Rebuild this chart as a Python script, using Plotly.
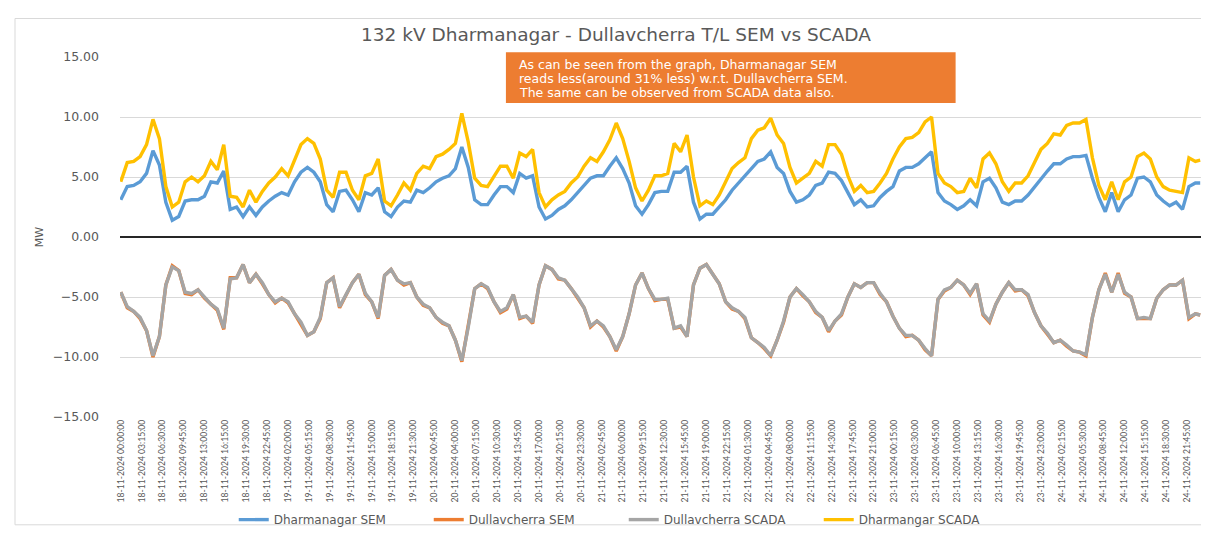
import pandas as pd
import plotly.graph_objects as go

# hourly readings, 18-11-2024 00:00 ... 24-11-2024 23:00, plus final 23:45 slot
times = list(pd.date_range("2024-11-18 00:00", periods=168, freq="h")) + [pd.Timestamp("2024-11-24 23:45")]

dharmanagar_sem = [
    3.1,4.2,4.3,4.6,5.3,7.2,6.0,2.9,1.4,1.7,3.0,3.1,3.1,3.4,4.6,4.5,5.5,2.3,2.5,1.7,2.5,1.8,2.5,3.0,3.4,3.7,3.5,4.6,
    5.4,5.8,5.4,4.6,2.7,2.1,3.8,3.9,3.1,2.1,3.7,3.5,4.1,2.1,1.7,2.5,3.0,2.9,3.9,3.7,4.1,4.6,4.9,5.1,5.7,7.5,5.8,3.1,
    2.7,2.7,3.5,4.2,4.2,3.7,5.3,4.9,5.1,2.5,1.5,1.8,2.3,2.6,3.1,3.7,4.2,4.9,5.1,5.1,5.9,6.6,5.7,4.5,2.6,1.9,2.7,3.7,
    3.8,3.8,5.4,5.4,5.9,2.9,1.5,1.9,1.9,2.5,3.1,3.9,4.5,5.0,5.7,6.3,6.5,7.1,5.8,5.3,3.8,2.9,3.1,3.5,4.3,4.5,5.4,5.3,
    4.7,3.7,2.7,3.1,2.5,2.6,3.3,3.8,4.2,5.5,5.8,5.8,6.1,6.6,7.1,3.7,3.0,2.7,2.3,2.6,3.1,2.6,4.6,4.9,4.1,2.9,2.7,3.0,
    3.0,3.5,4.2,4.9,5.5,6.1,6.1,6.5,6.7,6.7,6.8,4.9,3.3,2.1,3.7,2.1,3.1,3.5,4.9,5.0,4.6,3.5,3.0,2.6,2.9,2.3,4.2,4.5,4.5,
]

dullavcherra_sem = [
    -4.6,-5.9,-6.2,-6.8,-7.8,-10.0,-8.3,-4.0,-2.4,-2.8,-4.7,-4.8,-4.4,-5.1,-5.6,-6.1,-7.7,-3.4,-3.4,-2.3,-3.8,-3.1,-3.9,-4.8,-5.5,-5.1,-5.5,-6.4,
    -7.2,-8.2,-7.9,-6.8,-3.8,-3.4,-5.9,-4.8,-3.8,-3.1,-4.8,-5.4,-6.8,-3.2,-2.7,-3.6,-4.0,-3.8,-5.0,-5.7,-5.9,-6.7,-7.2,-7.4,-8.6,-10.4,-7.5,-4.3,
    -3.9,-4.3,-5.4,-6.3,-6.0,-4.8,-6.8,-6.6,-7.2,-4.0,-2.4,-2.7,-3.5,-3.6,-4.3,-5.1,-5.9,-7.5,-7.0,-7.5,-8.3,-9.5,-8.3,-6.4,-4.0,-3.0,-4.3,-5.3,
    -5.2,-5.2,-7.6,-7.5,-8.3,-4.0,-2.6,-2.3,-3.1,-3.9,-5.4,-6.0,-6.2,-6.8,-8.4,-8.8,-9.3,-9.9,-8.6,-7.1,-5.0,-4.3,-4.9,-5.4,-6.3,-6.7,-7.9,-7.0,
    -6.5,-5.0,-3.9,-4.2,-3.8,-3.8,-4.8,-5.4,-6.6,-7.6,-8.3,-8.2,-8.6,-9.4,-9.9,-5.2,-4.5,-4.2,-3.6,-4.0,-4.8,-3.9,-6.5,-7.1,-5.6,-4.6,-3.8,-4.5,
    -4.4,-4.9,-6.3,-7.4,-8.1,-8.8,-8.6,-9.1,-9.5,-9.6,-9.9,-6.7,-4.4,-3.0,-4.6,-3.0,-4.7,-5.0,-6.8,-6.8,-6.8,-5.1,-4.4,-4.0,-4.0,-3.6,-6.8,-6.4,-6.5,
]

dullavcherra_scada = [
    -4.6,-5.8,-6.2,-6.7,-7.8,-9.9,-8.3,-4.0,-2.5,-2.8,-4.6,-4.7,-4.4,-5.0,-5.6,-6.0,-7.6,-3.5,-3.4,-2.3,-3.8,-3.1,-3.8,-4.8,-5.4,-5.1,-5.4,-6.4,
    -7.1,-8.2,-7.9,-6.7,-3.8,-3.4,-5.8,-4.8,-3.8,-3.1,-4.7,-5.4,-6.7,-3.2,-2.7,-3.6,-3.9,-3.8,-5.0,-5.6,-5.9,-6.7,-7.1,-7.4,-8.6,-10.3,-7.5,-4.3,
    -3.9,-4.2,-5.4,-6.2,-5.9,-4.8,-6.7,-6.6,-7.1,-4.0,-2.4,-2.7,-3.4,-3.6,-4.3,-5.0,-5.9,-7.4,-7.0,-7.4,-8.3,-9.4,-8.3,-6.4,-4.0,-3.0,-4.3,-5.2,
    -5.2,-5.1,-7.6,-7.4,-8.3,-4.0,-2.6,-2.3,-3.1,-3.9,-5.4,-5.9,-6.2,-6.7,-8.4,-8.8,-9.2,-9.9,-8.6,-7.0,-5.0,-4.3,-4.8,-5.4,-6.2,-6.7,-7.8,-7.0,
    -6.4,-5.0,-3.9,-4.2,-3.8,-3.8,-4.7,-5.4,-6.6,-7.6,-8.2,-8.2,-8.6,-9.3,-9.9,-5.2,-4.4,-4.2,-3.6,-4.0,-4.7,-3.9,-6.4,-7.0,-5.6,-4.6,-3.8,-4.4,
    -4.4,-4.8,-6.3,-7.4,-8.0,-8.8,-8.6,-9.0,-9.5,-9.6,-9.8,-6.7,-4.4,-3.1,-4.6,-3.1,-4.6,-5.0,-6.8,-6.7,-6.8,-5.1,-4.4,-4.0,-4.0,-3.6,-6.7,-6.4,-6.5,
]

dharmanagar_scada = [
    4.6,6.2,6.3,6.7,7.7,9.8,8.2,4.2,2.5,2.9,4.6,5.0,4.6,5.1,6.3,5.6,7.7,3.4,3.3,2.5,3.9,2.9,3.8,4.5,5.0,5.7,5.1,6.5,
    7.7,8.2,7.8,6.5,3.9,3.3,5.4,5.4,3.9,3.1,5.1,5.3,6.5,3.0,2.6,3.5,4.5,3.9,5.3,5.9,5.7,6.7,6.9,7.3,7.8,10.3,7.9,4.9,
    4.3,4.2,5.1,5.9,5.9,4.9,7.0,6.7,7.3,3.7,2.5,3.1,3.5,3.8,4.5,5.0,5.9,6.6,6.3,7.1,8.1,9.5,8.2,6.3,4.1,3.0,3.9,5.1,
    5.1,5.3,7.8,7.1,8.5,5.0,2.6,3.0,2.7,3.5,4.6,5.7,6.2,6.6,8.2,8.9,9.1,9.9,8.5,7.8,5.8,4.5,4.9,5.3,6.3,5.9,7.7,7.7,
    6.9,5.1,3.8,4.3,3.7,3.8,4.5,5.3,6.5,7.5,8.2,8.3,8.7,9.6,10.0,5.3,4.5,4.2,3.7,3.8,4.9,4.1,6.5,7.0,6.1,4.6,3.8,4.5,
    4.5,5.1,6.2,7.3,7.8,8.6,8.5,9.3,9.5,9.5,9.8,6.6,4.3,3.1,4.6,3.1,4.6,5.0,6.7,7.0,6.5,5.0,4.2,3.9,3.8,3.7,6.6,6.3,6.4,
]

series_names = ["Dharmanagar SEM", "Dullavcherra SEM", "Dullavcherra SCADA", "Dharmangar SCADA"]
series_colors = ["#5B9BD5", "#ED7D31", "#A5A5A5", "#FFC000"]
series_values = [dharmanagar_sem, dullavcherra_sem, dullavcherra_scada, dharmanagar_scada]

# x tick labels every 3h15m
tick_times = pd.date_range("2024-11-18 00:00", periods=52, freq="195min")
tick_labels = [t.strftime("%d-%m-%Y %H:%M:%S") for t in tick_times]

note_lines = [
    "As can be seen from the graph, Dharmanagar SEM",
    "reads less(around 31% less) w.r.t. Dullavcherra SEM.",
    "The same can be observed from SCADA data also.",
]

GREY = "#595959"
fig = go.Figure()
for name, color, vals in zip(series_names, series_colors, series_values):
    fig.add_trace(go.Scatter(x=times, y=vals, mode="lines", name=name,
                             line=dict(color=color, width=3.4)))

x_start = pd.Timestamp("2024-11-18 00:00") - pd.Timedelta(minutes=7.5)
x_end = pd.Timestamp("2024-11-24 23:45") + pd.Timedelta(minutes=7.5)

fig.update_layout(
    width=1209, height=538,
    margin=dict(l=112, r=16, t=49, b=115),
    paper_bgcolor="white", plot_bgcolor="white",
    title=dict(text="132 kV Dharmanagar - Dullavcherra T/L SEM vs SCADA",
               x=(608 - 0) / 1209, xanchor="center", y=0.95, yanchor="middle",
               font=dict(family="DejaVu Sans", size=18.5, color=GREY)),
    showlegend=True,
    legend=dict(orientation="h", x=0.466, xanchor="center", y=-0.285, yanchor="middle",
                font=dict(family="DejaVu Sans", size=12, color=GREY),
                bgcolor="rgba(0,0,0,0)",
                entrywidth=150, traceorder="normal"),
    xaxis=dict(type="date", range=[x_start, x_end], tickmode="array",
               tickvals=list(tick_times), ticktext=tick_labels, tickangle=-90,
               tickfont=dict(family="Lato", size=8.6, color=GREY),
               showgrid=False, showline=False, zeroline=False),
    yaxis=dict(range=[-15, 15], tick0=-15, dtick=5, tickformat=".2f",
               tickfont=dict(family="DejaVu Sans", size=12.5, color=GREY),
               gridcolor="#D9D9D9", gridwidth=1,
               zeroline=True, zerolinecolor="#262626", zerolinewidth=2,
               showline=False, ticklabelstandoff=20,
               title=dict(text="MW", standoff=6,
                          font=dict(family="DejaVu Sans", size=11, color=GREY))),
)

# note box
fig.add_shape(type="rect", xref="paper", yref="paper",
              x0=0.357, x1=0.773, y0=0.872, y1=1.013,
              fillcolor="#ED7D31", line=dict(width=0), layer="above")
for i, line in enumerate(note_lines):
    fig.add_annotation(xref="paper", yref="paper", x=0.367, y=0.979 - i * 0.0385,
                       xanchor="left", yanchor="middle", showarrow=False, text=line,
                       font=dict(family="DejaVu Sans", size=12.5, color="white"))

# chart frame
fig.add_shape(type="rect", xref="paper", yref="paper",
              x0=(7 - 112) / 1081, x1=(1203 - 112) / 1081,
              y0=(423 - 535) / 374, y1=(423 - 9) / 374,
              line=dict(color="#D9D9D9", width=1), fillcolor="rgba(0,0,0,0)", layer="below")

fig.write_html("out.html")
